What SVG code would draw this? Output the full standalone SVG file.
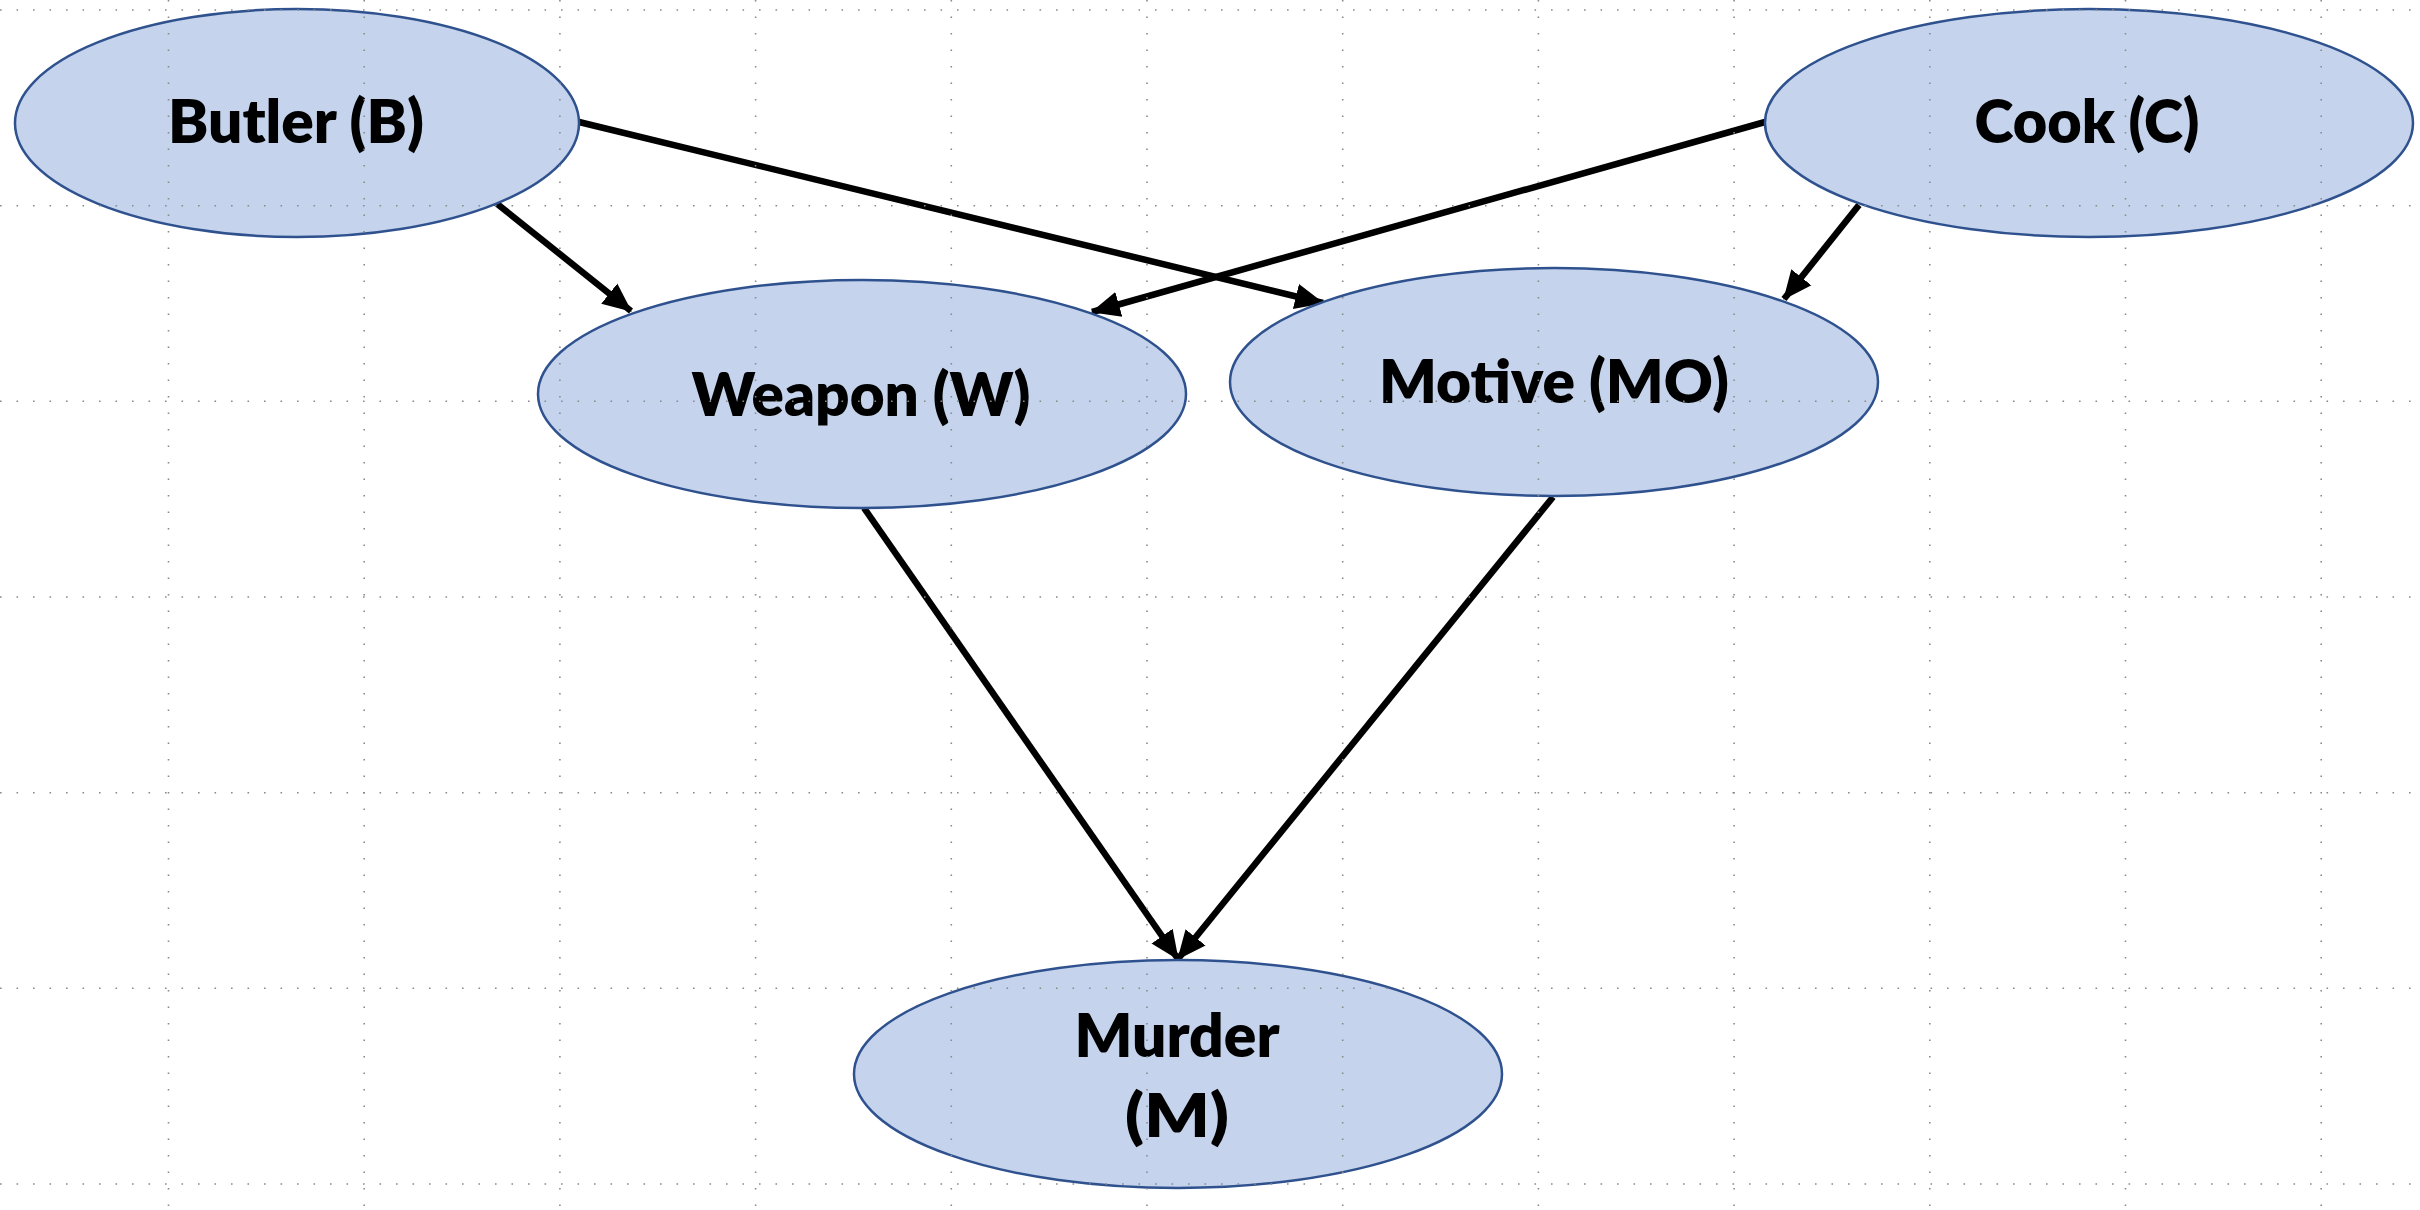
<svg xmlns="http://www.w3.org/2000/svg" width="2420" height="1210" viewBox="0 0 2420 1210">
<defs>
<style>
.node{fill:#C5D4EC;stroke:#2F528F;stroke-width:2.5}
.lbl{font-family:Lato,"Open Sans","DejaVu Sans",sans-serif;font-weight:800;font-size:60px;fill:#000;text-anchor:middle}
.edge{stroke:#000;stroke-width:6.5;fill:none;marker-end:url(#ah)}
.grid line{stroke:#8a8a8a;stroke-width:1.6;stroke-dasharray:1.6 14.9}
</style>
<marker id="ah" markerUnits="userSpaceOnUse" markerWidth="30" markerHeight="30" viewBox="0 0 28 28" refX="26" refY="14" orient="auto">
<path d="M0,2 L27,14 L0,26 z" fill="#000"/>
</marker>
</defs>
<rect width="2420" height="1210" fill="#fff"/>
<g id="connectors">
<line class="edge" x1="496" y1="203" x2="631" y2="311"/>
<line class="edge" x1="579" y1="122" x2="1323" y2="303"/>
<line class="edge" x1="1765" y1="122" x2="1092" y2="312"/>
<line class="edge" x1="1859" y1="205" x2="1784" y2="299"/>
<line class="edge" x1="864" y1="508" x2="1178" y2="959"/>
<line class="edge" x1="1553" y1="497" x2="1178" y2="959"/>
</g>
<g id="node-butler"><ellipse class="node" cx="297" cy="123" rx="282" ry="114"/><text class="lbl" x="296" y="143" textLength="256" lengthAdjust="spacingAndGlyphs">Butler (B)</text></g>
<g id="node-cook"><ellipse class="node" cx="2089" cy="123" rx="324" ry="114"/><text class="lbl" x="2087" y="143" textLength="225" lengthAdjust="spacingAndGlyphs">Cook (C)</text></g>
<g id="node-weapon"><ellipse class="node" cx="862" cy="394" rx="324" ry="114"/><text class="lbl" x="861" y="416" textLength="339" lengthAdjust="spacingAndGlyphs">Weapon (W)</text></g>
<g id="node-motive"><ellipse class="node" cx="1554" cy="382" rx="324" ry="114"/><text class="lbl" x="1554" y="403" textLength="350" lengthAdjust="spacingAndGlyphs">Motive (MO)</text></g>
<g id="node-murder"><ellipse class="node" cx="1178" cy="1074" rx="324" ry="114"/><text class="lbl" x="1177" y="1057" textLength="205" lengthAdjust="spacingAndGlyphs">Murder</text><text class="lbl" x="1177" y="1137" textLength="104" lengthAdjust="spacingAndGlyphs">(M)</text></g>
<g class="grid" id="grid">
<line x1="0" y1="10" x2="2420" y2="10"/>
<line x1="0" y1="205.7" x2="2420" y2="205.7"/>
<line x1="0" y1="401.3" x2="2420" y2="401.3"/>
<line x1="0" y1="597" x2="2420" y2="597"/>
<line x1="0" y1="792.7" x2="2420" y2="792.7"/>
<line x1="0" y1="988.3" x2="2420" y2="988.3"/>
<line x1="0" y1="1184" x2="2420" y2="1184"/>
<line x1="168.5" y1="0" x2="168.5" y2="1210"/>
<line x1="364.2" y1="0" x2="364.2" y2="1210"/>
<line x1="559.9" y1="0" x2="559.9" y2="1210"/>
<line x1="755.6" y1="0" x2="755.6" y2="1210"/>
<line x1="951.3" y1="0" x2="951.3" y2="1210"/>
<line x1="1147" y1="0" x2="1147" y2="1210"/>
<line x1="1342.7" y1="0" x2="1342.7" y2="1210"/>
<line x1="1538.4" y1="0" x2="1538.4" y2="1210"/>
<line x1="1734.1" y1="0" x2="1734.1" y2="1210"/>
<line x1="1929.8" y1="0" x2="1929.8" y2="1210"/>
<line x1="2125.5" y1="0" x2="2125.5" y2="1210"/>
<line x1="2321.2" y1="0" x2="2321.2" y2="1210"/>
</g>
</svg>
